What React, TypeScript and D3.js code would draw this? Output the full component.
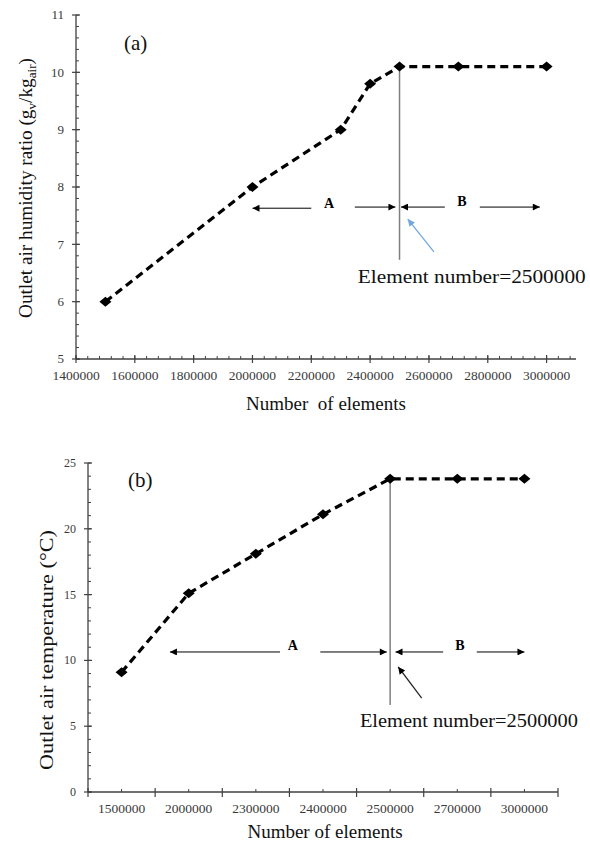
import React from "react";
import * as d3 from "d3";

// ---------- data ----------
const elementsA = [1500000, 2000000, 2300000, 2400000, 2500000, 2700000, 3000000];
const humidityA = [6.0, 8.0, 9.0, 9.8, 10.1, 10.1, 10.1];
const xTicksA = [1400000, 1600000, 1800000, 2000000, 2200000, 2400000, 2600000, 2800000, 3000000];
const yTicksA = [5, 6, 7, 8, 9, 10, 11];

const categoriesB = ["1500000", "2000000", "2300000", "2400000", "2500000", "2700000", "3000000"];
const temperatureB = [9.1, 15.1, 18.1, 21.1, 23.8, 23.8, 23.8];
const yTicksB = [0, 5, 10, 15, 20, 25];

const FONT = "'Liberation Serif', 'Times New Roman', serif";

const diamond = (w: number, h: number) =>
  `M0,${-h / 2}L${w / 2},0L0,${h / 2}L${-w / 2},0Z`;

export default function App() {
  // ---------- chart (a) ----------
  const xA = d3.scaleLinear().domain([1400000, 3100000]).range([76, 576]);
  const yA = d3.scaleLinear().domain([5, 11]).range([359, 15]);
  const lineA = d3
    .line<number>()
    .x((_, i) => xA(elementsA[i]))
    .y((d) => yA(d));
  const minorXA = d3.range(1400000, 3100001, 40000);
  const minorYA = d3.range(5, 11.001, 0.2);

  // ---------- chart (b) ----------
  const xB = d3.scaleLinear().domain([-0.5, categoriesB.length - 0.5]).range([88, 558]);
  const yB = d3.scaleLinear().domain([0, 25]).range([792, 463]);
  const lineB = d3
    .line<number>()
    .x((_, i) => xB(i))
    .y((d) => yB(d));
  const majorXB = d3.range(-0.5, categoriesB.length, 1);
  const minorYB = d3.range(0, 25.001, 1);

  const axisColor = "#404040";
  const tickText = "#3a3a3a";

  return (
    <svg
      width={590}
      height={847}
      style={{ position: "absolute", left: 0, top: 0, background: "#fff" }}
      fontFamily={FONT}
    >
      <defs>
        <marker id="ah" viewBox="0 0 10 10" refX="10" refY="5" markerWidth="8" markerHeight="7"
          markerUnits="userSpaceOnUse" orient="auto">
          <path d="M0,0L10,5L0,10Z" fill="#000" />
        </marker>
        <marker id="ahBlue" viewBox="0 0 10 10" refX="10" refY="5" markerWidth="8" markerHeight="7"
          markerUnits="userSpaceOnUse" orient="auto">
          <path d="M0,0L10,5L0,10Z" fill="#6fa8dc" />
        </marker>
      </defs>

      {/* ================= (a) ================= */}
      <g>
        {/* axes */}
        <line x1={xA(1400000)} x2={xA(3100000)} y1={yA(5)} y2={yA(5)} stroke={axisColor} strokeWidth={1.3} />
        <line x1={xA(1400000)} x2={xA(1400000)} y1={yA(5)} y2={yA(11)} stroke={axisColor} strokeWidth={1.3} />
        {minorXA.map((v) => (
          <line key={"mxa" + v} x1={xA(v)} x2={xA(v)} y1={yA(5)} y2={yA(5) - 3} stroke={axisColor} strokeWidth={1} />
        ))}
        {xTicksA.map((v) => (
          <g key={"xa" + v}>
            <line x1={xA(v)} x2={xA(v)} y1={yA(5) - 4} y2={yA(5) + 4} stroke={axisColor} strokeWidth={1.2} />
            <text x={xA(v)} y={380} textAnchor="middle" fontSize={13.5} fill={tickText}>
              {v}
            </text>
          </g>
        ))}
        {minorYA.map((v) => (
          <line key={"mya" + v} x1={xA(1400000)} x2={xA(1400000) + 3} y1={yA(v)} y2={yA(v)} stroke={axisColor} strokeWidth={1} />
        ))}
        {yTicksA.map((v) => (
          <g key={"ya" + v}>
            <line x1={xA(1400000) - 4} x2={xA(1400000) + 4} y1={yA(v)} y2={yA(v)} stroke={axisColor} strokeWidth={1.2} />
            <text x={64} y={yA(v)} dy="0.33em" textAnchor="end" fontSize={13} fill={tickText}>
              {v}
            </text>
          </g>
        ))}

        {/* titles */}
        <text x={326} y={410} textAnchor="middle" fontSize={19} fill="#111" style={{ whiteSpace: "pre" }}>
          Number  of elements
        </text>
        <text
          transform={`translate(32,188) rotate(-90)`}
          textAnchor="middle"
          fontSize={19}
          fill="#111"
          textLength={260}
          lengthAdjust="spacingAndGlyphs"
        >
          Outlet air humidity ratio (g
          <tspan fontSize={13} dy={4}>v</tspan>
          <tspan dy={-4}>/kg</tspan>
          <tspan fontSize={13} dy={4}>air</tspan>
          <tspan dy={-4}>)</tspan>
        </text>
        <text x={124} y={50} fontSize={21} fill="#111">(a)</text>

        {/* vertical reference line */}
        <line x1={xA(2500000)} x2={xA(2500000)} y1={yA(10.1)} y2={yA(6.73)} stroke="#7f7f7f" strokeWidth={1.5} />

        {/* data */}
        <path d={lineA(humidityA) || ""} fill="none" stroke="#000" strokeWidth={3.2} strokeDasharray="8,5" />
        {humidityA.map((v, i) => (
          <path key={"pa" + i} d={diamond(12, 10)} transform={`translate(${xA(elementsA[i])},${yA(v)})`} fill="#000" />
        ))}

        {/* annotations */}
        <line x1={xA(2200000)} x2={xA(2000000)} y1={yA(7.63)} y2={yA(7.63)} stroke="#000" strokeWidth={1} markerEnd="url(#ah)" />
        <text x={xA(2260000)} y={yA(7.63)} textAnchor="middle" fontSize={14} fontWeight="bold">A</text>
        <line x1={xA(2348000)} x2={xA(2486000)} y1={yA(7.65)} y2={yA(7.65)} stroke="#000" strokeWidth={1} markerEnd="url(#ah)" />
        <line x1={xA(2654000)} x2={xA(2505000)} y1={yA(7.65)} y2={yA(7.65)} stroke="#000" strokeWidth={1} markerEnd="url(#ah)" />
        <text x={xA(2712000)} y={yA(7.67)} textAnchor="middle" fontSize={14} fontWeight="bold">B</text>
        <line x1={xA(2773000)} x2={xA(2977000)} y1={yA(7.65)} y2={yA(7.65)} stroke="#000" strokeWidth={1} markerEnd="url(#ah)" />
        <line x1={xA(2617000)} x2={xA(2528000)} y1={yA(6.87)} y2={yA(7.44)} stroke="#6fa8dc" strokeWidth={1.3} markerEnd="url(#ahBlue)" />
        <text x={xA(2358000)} y={yA(6.33)} fontSize={19} fill="#111" textLength={228} lengthAdjust="spacingAndGlyphs">
          Element number=2500000
        </text>
      </g>

      {/* ================= (b) ================= */}
      <g>
        <line x1={xB(-0.5)} x2={xB(6.5)} y1={yB(0)} y2={yB(0)} stroke={axisColor} strokeWidth={1.3} />
        <line x1={xB(-0.5)} x2={xB(-0.5)} y1={yB(0)} y2={yB(25)} stroke={axisColor} strokeWidth={1.3} />
        {majorXB.map((v) => (
          <line key={"mjxb" + v} x1={xB(v)} x2={xB(v)} y1={yB(0) - 4} y2={yB(0) + 5} stroke={axisColor} strokeWidth={1.2} />
        ))}
        {categoriesB.map((c, i) => (
          <g key={"xb" + c}>
            <line x1={xB(i)} x2={xB(i)} y1={yB(0)} y2={yB(0) - 3} stroke={axisColor} strokeWidth={1} />
            <text x={xB(i)} y={813} textAnchor="middle" fontSize={13.5} fill={tickText}>
              {c}
            </text>
          </g>
        ))}
        {minorYB.map((v) => (
          <line key={"myb" + v} x1={xB(-0.5)} x2={xB(-0.5) + 3} y1={yB(v)} y2={yB(v)} stroke={axisColor} strokeWidth={1} />
        ))}
        {yTicksB.map((v) => (
          <g key={"yb" + v}>
            <line x1={xB(-0.5) - 4} x2={xB(-0.5) + 4} y1={yB(v)} y2={yB(v)} stroke={axisColor} strokeWidth={1.2} />
            <text x={76} y={yB(v)} dy="0.33em" textAnchor="end" fontSize={12} fill={tickText}>
              {v}
            </text>
          </g>
        ))}

        <text x={325} y={838} textAnchor="middle" fontSize={19} fill="#111">
          Number of elements
        </text>
        <text
          transform={`translate(53,650) rotate(-90)`}
          textAnchor="middle"
          fontSize={19}
          fill="#111"
          textLength={240}
          lengthAdjust="spacingAndGlyphs"
        >
          Outlet air temperature (°C)
        </text>
        <text x={128} y={487} fontSize={21} fill="#111">(b)</text>

        <line x1={xB(4)} x2={xB(4)} y1={yB(23.8)} y2={yB(6.61)} stroke="#7f7f7f" strokeWidth={1.5} />

        <path d={lineB(temperatureB) || ""} fill="none" stroke="#000" strokeWidth={3.2} strokeDasharray="8,5" />
        {temperatureB.map((v, i) => (
          <path key={"pb" + i} d={diamond(12, 10)} transform={`translate(${xB(i)},${yB(v)})`} fill="#000" />
        ))}

        <line x1={xB(2.36)} x2={xB(0.72)} y1={yB(10.64)} y2={yB(10.64)} stroke="#000" strokeWidth={1} markerEnd="url(#ah)" />
        <text x={xB(2.55)} y={yB(10.64) - 2} textAnchor="middle" fontSize={14} fontWeight="bold">A</text>
        <line x1={xB(2.96)} x2={xB(3.95)} y1={yB(10.64)} y2={yB(10.64)} stroke="#000" strokeWidth={1} markerEnd="url(#ah)" />
        <line x1={xB(4.79)} x2={xB(4.08)} y1={yB(10.64)} y2={yB(10.64)} stroke="#000" strokeWidth={1} markerEnd="url(#ah)" />
        <text x={xB(5.04)} y={yB(10.64) - 2} textAnchor="middle" fontSize={14} fontWeight="bold">B</text>
        <line x1={xB(5.29)} x2={xB(6.0)} y1={yB(10.64)} y2={yB(10.64)} stroke="#000" strokeWidth={1} markerEnd="url(#ah)" />
        <line x1={xB(4.47)} x2={xB(4.12)} y1={yB(7.14)} y2={yB(9.5)} stroke="#222" strokeWidth={1.3} markerEnd="url(#ah)" />
        <text x={xB(3.55)} y={yB(4.94)} fontSize={19} fill="#111" textLength={218} lengthAdjust="spacingAndGlyphs">
          Element number=2500000
        </text>
      </g>
    </svg>
  );
}
